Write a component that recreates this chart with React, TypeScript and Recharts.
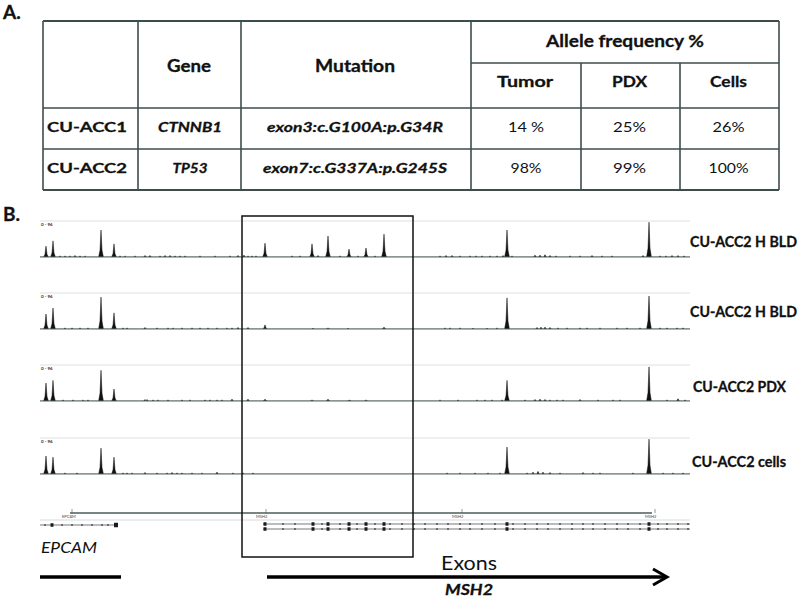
import React from 'react';
import { AreaChart, Area, XAxis, YAxis, ReferenceLine, ComposedChart, Scatter } from 'recharts';

// ---------- Table data (panel A) ----------
const SAMPLES = ['CU-ACC1', 'CU-ACC2'];
const GENES = ['CTNNB1', 'TP53'];
const MUTATIONS = ['exon3:c.G100A:p.G34R', 'exon7:c.G337A:p.G245S'];
const TUMOR = ['14 %', '98%'];
const PDX = ['25%', '99%'];
const CELLS = ['26%', '100%'];
const HEADERS = ['Gene', 'Mutation', 'Allele frequency %'];
const SUBHEADERS = ['Tumor', 'PDX', 'Cells'];

// ---------- Coverage tracks (panel B) ----------
const TRACK_LABELS = ['CU-ACC2 H BLD', 'CU-ACC2 H BLD', 'CU-ACC2 PDX', 'CU-ACC2 cells'];
const TRACK_RANGE = '0 - 96';
// peak (exon) positions along the locus
const PEAK_POS = [46, 53, 101, 114, 265, 312, 328, 349, 366, 384, 507, 649];
const T1_PEAKS = [29, 43, 72, 35, 37, 35, 56, 21, 24, 61, 72, 93];
const T2_PEAKS = [40, 56, 85, 43, 11, 0, 3, 0, 0, 5, 83, 88];
const T3_PEAKS = [48, 55, 82, 32, 5, 3, 5, 3, 3, 0, 55, 91];
const T4_PEAKS = [48, 45, 69, 45, 0, 0, 0, 0, 0, 0, 72, 93];
// low background bumps [position, height]
const T1_BUMPS: [number, number][] = [[60, 3], [65, 3], [70, 3], [75, 4], [80, 3], [85, 3], [120, 3], [125, 3], [135, 3], [145, 4], [150, 4], [160, 3], [165, 4], [170, 4], [175, 3], [180, 3], [185, 3], [200, 3], [215, 3], [230, 3], [238, 4], [244, 5], [248, 3], [252, 3], [256, 3], [292, 3], [300, 3], [318, 4], [340, 3], [358, 3], [375, 3], [440, 3], [446, 4], [452, 4], [460, 3], [470, 3], [476, 3], [482, 3], [490, 3], [497, 3], [503, 4], [512, 3], [535, 5], [540, 5], [545, 6], [550, 4], [556, 3], [570, 3], [580, 3], [592, 4], [602, 3], [612, 3], [643, 4], [660, 3], [666, 3], [672, 4], [678, 4], [684, 3]];
const T2_BUMPS: [number, number][] = [[65, 3], [72, 3], [80, 3], [88, 3], [123, 3], [127, 3], [145, 4], [157, 3], [168, 3], [173, 3], [182, 3], [192, 3], [200, 3], [208, 3], [217, 3], [227, 3], [232, 3], [238, 4], [248, 4], [313, 2], [348, 2], [445, 3], [450, 3], [460, 3], [473, 2], [487, 2], [497, 3], [537, 4], [541, 5], [545, 5], [550, 4], [558, 3], [567, 3], [580, 3], [587, 3], [600, 3], [617, 3], [627, 3], [640, 3], [660, 3], [667, 3], [677, 3], [683, 3]];
const T3_BUMPS: [number, number][] = [[63, 3], [73, 3], [83, 3], [88, 3], [145, 4], [147, 4], [153, 3], [158, 3], [168, 3], [182, 3], [190, 3], [205, 3], [210, 3], [217, 3], [222, 3], [232, 5], [248, 5], [350, 2], [440, 3], [458, 3], [477, 3], [485, 3], [492, 3], [502, 3], [525, 3], [535, 4], [540, 5], [545, 4], [550, 3], [557, 3], [563, 3], [580, 4], [598, 3], [613, 3], [620, 3], [667, 3], [678, 6], [685, 3]];
const T4_BUMPS: [number, number][] = [[65, 3], [77, 3], [123, 3], [127, 3], [132, 3], [145, 4], [157, 3], [167, 3], [172, 4], [177, 3], [182, 3], [192, 3], [202, 3], [217, 5], [233, 3], [243, 3], [253, 3], [447, 3], [460, 3], [475, 3], [488, 3], [500, 3], [527, 3], [533, 5], [538, 7], [543, 5], [550, 4], [560, 3], [583, 4], [593, 3], [600, 3], [633, 3], [663, 3], [673, 3], [683, 3]];

// ---------- Gene model ----------
const EPCAM_MARKS = [45, 62, 72, 82, 92, 102, 108];
const EPCAM_EXONS = [52, 116];
const MSH2_MARKS = [283, 295, 322, 340, 357, 375, 390, 402, 414, 425, 437, 448, 460, 470, 482, 495, 513, 525, 537, 548, 560, 572, 583, 593, 605, 617, 628, 640, 658, 667, 678, 688];
const MSH2_EXONS = [265, 313, 328, 349, 366, 384, 507, 649];
const GENE_TAGS: [number, string][] = [[72, 'EPCAM'], [266, 'MSH2'], [462, 'MSH2'], [655, 'MSH2']];

const X0 = 40;
const X1 = 690;
const FONT = 'Lato, "Open Sans", sans-serif';

function buildTrack(peaks: number[], bumps: [number, number][]) {
  const pts: { x: number; y: number }[] = [{ x: X0, y: 0 }, { x: X1, y: 0 }];
  PEAK_POS.forEach((p, i) => {
    const h = peaks[i];
    if (!h) return;
    pts.push({ x: p - 2.4, y: 0 }, { x: p - 1, y: h * 0.25 }, { x: p, y: h }, { x: p + 1, y: h * 0.25 }, { x: p + 2.4, y: 0 });
  });
  bumps.forEach(([p, h]) => pts.push({ x: p - 1.3, y: 0 }, { x: p, y: h }, { x: p + 1.3, y: 0 }));
  pts.sort((a, b) => a.x - b.x);
  return pts;
}

const TRACKS = [
  buildTrack(T1_PEAKS, T1_BUMPS),
  buildTrack(T2_PEAKS, T2_BUMPS),
  buildTrack(T3_PEAKS, T3_BUMPS),
  buildTrack(T4_PEAKS, T4_BUMPS),
];
const TRACK_TOPS = [221, 293, 365, 438];
const TRACK_H = 36;

const epcamMarkData = EPCAM_MARKS.map((x) => ({ x, y: 20, k: 0 }));
const epcamExonData = EPCAM_EXONS.map((x, i) => ({ x, y: 20, k: i === 1 ? 2 : 1 }));
const msh2MarkData = MSH2_MARKS.flatMap((x) => [{ x, y: 19, k: 0 }, { x, y: 24, k: 0 }]);
const msh2ExonData = MSH2_EXONS.flatMap((x) => [{ x, y: 19, k: 1 }, { x, y: 24, k: 1 }]);

const ExonShape = (props: any) => {
  const { cx, cy, payload } = props;
  if (cx == null || cy == null) return null;
  const k = payload.k;
  const w = k === 2 ? 4 : k === 1 ? 3 : 1.4;
  const h = k === 2 ? 4.5 : k === 1 ? 3.5 : 1.4;
  return <rect x={cx - w / 2} y={cy - h / 2} width={w} height={h} fill="#1a1a1a" />;
};

type TxtProps = { x: number; y: number; w?: number; size: number; bold?: boolean; italic?: boolean; anchor?: string; children: string; fill?: string };
const Txt = ({ x, y, w, size, bold, italic, anchor = 'middle', children, fill = '#111' }: TxtProps) => (
  <text
    x={x}
    y={y}
    textAnchor={anchor as any}
    fontFamily={FONT}
    fontSize={size}
    fontWeight={bold ? 700 : 400}
    fontStyle={italic ? 'italic' : 'normal'}
    fill={fill}
    stroke={bold && size > 6 ? fill : 'none'}
    strokeWidth={bold && size > 6 ? 0.3 : 0}
    {...(w ? { textLength: w, lengthAdjust: 'spacingAndGlyphs' } : {})}
  >
    {children}
  </text>
);

export default function App() {
  const lc = '#3e4c4c';
  // table layout
  const colX = [43, 138, 241, 471, 581, 680, 779];
  const rowBase = [132, 173];
  const sampleW = [80, 80];
  const geneW = [64, 35];
  const mutW = [176, 184];
  const tumorW = [36, 31];
  const pdxW = [33, 33];
  const cellsW = [32, 40];
  const headW = [44, 80, 158];
  const subW = [56, 35, 37];
  const subC = [525, 629.5, 728.5];
  const labelW = [107, 107, 93, 94];
  const labelBase = [247, 317, 392, 467];
  const labelX = [690, 690, 693, 692];

  return (
    <div style={{ position: 'absolute', left: 0, top: 0, width: 800, height: 600, background: '#fff', overflow: 'hidden' }}>
      {TRACKS.map((data, i) => (
        <div key={i} style={{ position: 'absolute', left: X0, top: TRACK_TOPS[i] - 2 }}>
          <AreaChart width={X1 - X0} height={TRACK_H + 4} data={data} margin={{ top: 2, right: 0, bottom: 2, left: 0 }}>
            <XAxis type="number" dataKey="x" domain={[X0, X1]} hide allowDataOverflow />
            <YAxis type="number" domain={[0, 96]} hide allowDataOverflow />
            <ReferenceLine y={96} stroke="#dde2e2" strokeWidth={1} />
            <Area type="linear" dataKey="y" stroke="#111" strokeWidth={0.5} fill="#111" fillOpacity={1} dot={false} activeDot={false} isAnimationActive={false} />
            <ReferenceLine y={0} stroke="#566868" strokeWidth={1.1} />
          </AreaChart>
        </div>
      ))}

      <div style={{ position: 'absolute', left: X0, top: 503 }}>
        <ComposedChart width={X1 - X0} height={34} margin={{ top: 2, right: 0, bottom: 2, left: 0 }}>
          <XAxis type="number" dataKey="x" domain={[X0, X1]} hide allowDataOverflow />
          <YAxis type="number" dataKey="y" domain={[0, 30]} reversed hide allowDataOverflow />
          <ReferenceLine segment={[{ x: 70, y: 8 }, { x: 652, y: 8 }]} stroke="#4d5b5b" strokeWidth={1.5} />
          <ReferenceLine segment={[{ x: X0, y: 15 }, { x: X1, y: 15 }]} stroke="#d6dcdc" strokeWidth={1} />
          <ReferenceLine segment={[{ x: X0, y: 20 }, { x: 118, y: 20 }]} stroke="#555" strokeWidth={0.8} />
          <ReferenceLine segment={[{ x: 263, y: 19 }, { x: X1, y: 19 }]} stroke="#555" strokeWidth={0.8} />
          <ReferenceLine segment={[{ x: 263, y: 24 }, { x: X1, y: 24 }]} stroke="#555" strokeWidth={0.8} />
          <Scatter data={epcamMarkData} dataKey="y" shape={ExonShape} isAnimationActive={false} />
          <Scatter data={epcamExonData} dataKey="y" shape={ExonShape} isAnimationActive={false} />
          <Scatter data={msh2MarkData} dataKey="y" shape={ExonShape} isAnimationActive={false} />
          <Scatter data={msh2ExonData} dataKey="y" shape={ExonShape} isAnimationActive={false} />
        </ComposedChart>
      </div>

      <svg width={800} height={600} style={{ position: 'absolute', left: 0, top: 0, pointerEvents: 'none' }}>
        {/* Panel letters */}
        <Txt x={3} y={19} size={19} bold anchor="start">A.</Txt>
        <Txt x={3} y={221} size={19} bold anchor="start">B.</Txt>

        {/* Table lines */}
        <line x1={colX[0]} x2={colX[6]} y1={21} y2={21} stroke={lc} strokeWidth={2} />
        <line x1={colX[3]} x2={colX[6]} y1={63} y2={63} stroke={lc} strokeWidth={1.5} />
        <line x1={colX[0]} x2={colX[6]} y1={108} y2={108} stroke={lc} strokeWidth={1.5} />
        <line x1={colX[0]} x2={colX[6]} y1={149} y2={149} stroke={lc} strokeWidth={1.5} />
        <line x1={colX[0]} x2={colX[6]} y1={190} y2={190} stroke={lc} strokeWidth={2} />
        {colX.map((x, i) => (
          <line key={i} x1={x} x2={x} y1={i === 4 || i === 5 ? 63 : 21} y2={190} stroke={lc} strokeWidth={1.6} />
        ))}

        {/* Table headers */}
        <Txt x={189} y={72} w={headW[0]} size={16.5} bold>{HEADERS[0]}</Txt>
        <Txt x={355} y={72} w={headW[1]} size={16.5} bold>{HEADERS[1]}</Txt>
        <Txt x={625} y={47} w={headW[2]} size={17} bold>{HEADERS[2]}</Txt>
        {SUBHEADERS.map((s, i) => (
          <Txt key={s} x={subC[i]} y={87} w={subW[i]} size={15.5} bold>{s}</Txt>
        ))}

        {/* Table rows */}
        {SAMPLES.map((s, r) => (
          <g key={s}>
            <Txt x={87} y={rowBase[r]} w={sampleW[r]} size={14} bold>{s}</Txt>
            <Txt x={190} y={rowBase[r]} w={geneW[r]} size={14} bold italic>{GENES[r]}</Txt>
            <Txt x={355} y={rowBase[r]} w={mutW[r]} size={14} bold italic>{MUTATIONS[r]}</Txt>
            <Txt x={526} y={rowBase[r]} w={tumorW[r]} size={14}>{TUMOR[r]}</Txt>
            <Txt x={629.5} y={rowBase[r]} w={pdxW[r]} size={14}>{PDX[r]}</Txt>
            <Txt x={728.5} y={rowBase[r]} w={cellsW[r]} size={14}>{CELLS[r]}</Txt>
          </g>
        ))}

        {/* Track labels */}
        {TRACK_LABELS.map((l, i) => (
          <g key={i}>
            <Txt x={labelX[i]} y={labelBase[i]} w={labelW[i]} size={14.5} bold anchor="start">{l}</Txt>
            <Txt x={41} y={TRACK_TOPS[i] + 5} size={4.5} bold anchor="start" fill="#333">{TRACK_RANGE}</Txt>
          </g>
        ))}

        {/* Gene model tags */}
        {GENE_TAGS.map(([x, t], i) => (
          <g key={i}>
            <line x1={x} x2={x} y1={509} y2={513} stroke="#555" strokeWidth={0.6} />
            <Txt x={x - 10} y={517.5} size={4} anchor="start" fill="#444">{t}</Txt>
          </g>
        ))}

        {/* Highlight box */}
        <rect x={242} y={216} width={171} height={341} fill="none" stroke="#111" strokeWidth={1.5} />

        {/* Bottom annotations */}
        <Txt x={41} y={553} w={56} size={16} italic anchor="start">EPCAM</Txt>
        <line x1={40} x2={121} y1={577} y2={577} stroke="#000" strokeWidth={3.5} />
        <line x1={267} x2={665} y1={577} y2={577} stroke="#000" strokeWidth={3.5} />
        <polyline points="653,569 667,577 653,585" fill="none" stroke="#000" strokeWidth={3} />
        <Txt x={441} y={570} w={56} size={18.5} anchor="start">Exons</Txt>
        <Txt x={445} y={595} w={48} size={16} bold italic anchor="start">MSH2</Txt>
      </svg>
    </div>
  );
}
